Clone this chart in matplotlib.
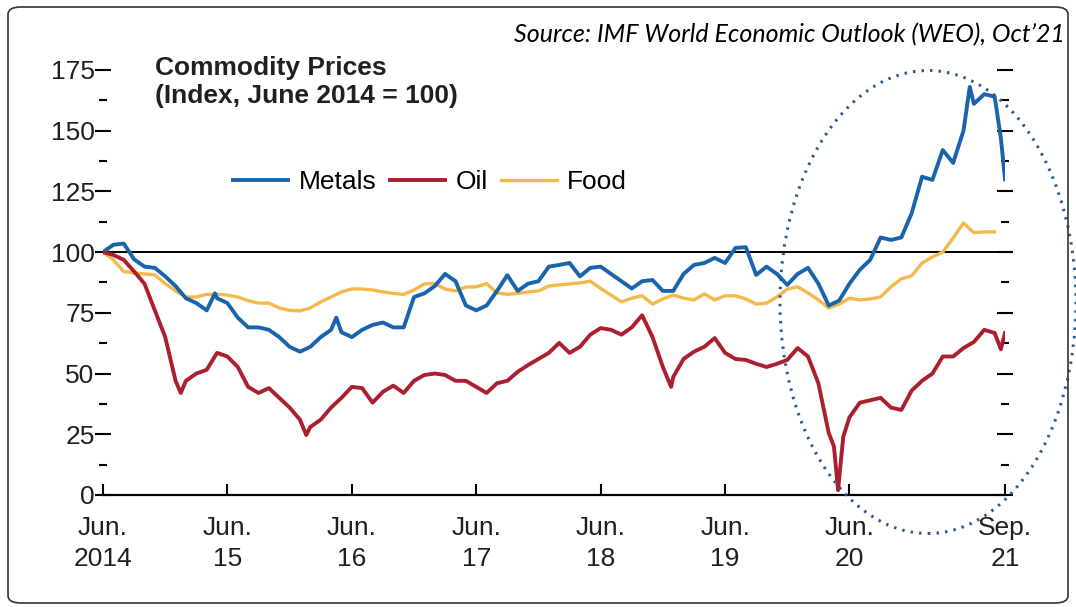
import matplotlib
matplotlib.use('Agg')
import matplotlib.pyplot as plt
from matplotlib.patches import Ellipse, FancyBboxPatch
from matplotlib.ticker import MultipleLocator

plt.rcParams['font.family'] = ['Liberation Sans', 'DejaVu Sans']

# months since June 2014
metals_t = [0, 1, 2, 3, 4, 5, 6, 7, 8, 9, 10, 10.8, 11, 12, 13, 14, 15, 16, 17, 18, 19, 20,
            21, 22, 22.5, 23, 24, 25, 26, 27, 28, 29, 30, 31, 32, 33, 34, 35, 36, 37, 38, 39,
            40, 41, 42, 43, 44, 45, 46, 47, 48, 49, 50, 51, 52, 53, 54, 55, 56, 57, 58, 59,
            60, 61, 62, 63, 64, 65, 66, 67, 68, 69, 70, 71, 72, 73, 74, 75, 76, 77, 78, 79,
            80, 81, 82, 83, 83.6, 84, 85, 86, 86.6, 87]
metals = [100, 103, 103.5, 97, 94, 93.5, 90, 86, 81, 79, 76, 83, 81, 79, 73, 69, 69, 68, 65, 61, 59, 61,
          65, 68, 73, 67, 65, 68, 70, 71, 69, 69, 81.5, 83, 86, 91, 88, 78, 76, 78, 84, 90.5,
          84, 87, 88, 94, 94.7, 95.5, 90, 93.5, 94, 91, 88, 85, 88, 88.5, 84, 84, 91, 94.7, 95.5, 97.6,
          95.5, 101.7, 102, 90.6, 94, 91, 86.5, 91, 93.5, 87, 78, 80, 87, 92.7, 96.8, 106, 105, 106, 116, 131,
          129.7, 142, 136.7, 150, 168, 161, 165, 164, 147, 130]

oil_t = [0, 1, 2, 3, 4, 5, 6, 7, 7.5, 8, 9, 10, 11, 12, 13, 14, 15, 16, 17, 18, 19, 19.6, 20,
         21, 22, 23, 24, 25, 26, 27, 28, 29, 30, 31, 32, 33, 34, 35, 36, 37, 38, 39, 40, 41,
         42, 43, 44, 45, 46, 47, 48, 49, 50, 51, 52, 53, 54, 54.8, 55, 56, 57, 58, 59, 60, 61,
         62, 63, 64, 65, 66, 67, 68, 69, 70, 70.5, 70.9, 71.4, 72, 73, 74, 75, 76, 77, 78, 79,
         80, 81, 82, 83, 84, 85, 86, 86.6, 87]
oil = [100, 98.8, 96.8, 92, 87, 76, 65, 47, 42, 47, 50, 51.5, 58.5, 57, 52.7, 44.5, 42, 44, 40, 36, 31, 24.7, 28,
       31, 36, 40, 44.5, 44, 38, 42.5, 45, 42, 47, 49.4, 50, 49.4, 47, 47, 44.5, 42, 46, 47, 50.7, 53.5,
       56, 58.5, 62.6, 58.5, 61, 66, 68.7, 68, 66, 69, 74, 65, 52.7, 44.5, 48.6, 56, 59, 61, 64.6, 58.5, 56,
       55.6, 54, 52.7, 54, 55.6, 60.5, 57, 46, 25.5, 20, 2, 24, 32, 38, 39, 40, 36, 35, 43, 47,
       50, 57, 57, 60.5, 63, 68, 66.7, 60, 66.7]

food_t = list(range(87))
food = [100, 96.8, 92, 91.4, 91, 90.6, 87, 84, 81.5, 81.5, 82.6, 82.6, 82.3, 81.5, 80, 79, 79, 77, 76, 75.8,
        77, 79.5, 81.5, 83.6, 84.8, 84.8, 84.4, 83.6, 83, 82.6, 84.4, 86.9, 87, 84.8, 84, 85.6, 85.7, 87, 83.2,
        82.6, 83, 83.6, 84, 86, 86.5, 86.9, 87.3, 88, 85, 82.3, 79.5, 81, 82, 78.6, 80.7, 82.3, 81, 80.3, 82.8,
        80.3, 82, 82, 80.7, 78.6, 79, 81.5, 84.8, 85.7, 83.2, 80.3, 77, 78.6, 81, 80.3, 80.7, 81.5, 85.7, 89,
        90.2, 95.5, 98, 100, 105.8, 112, 108, 108.3, 108.3]

tick_pos = [0, 12, 24, 36, 48, 60, 72, 87]
tick_labels = ['Jun.\n2014', 'Jun.\n15', 'Jun.\n16', 'Jun.\n17', 'Jun.\n18', 'Jun.\n19', 'Jun.\n20', 'Sep.\n21']

W, H = 1076, 607
fig = plt.figure(figsize=(W / 100, H / 100), dpi=100)
ax = fig.add_axes([103 / W, 1 - 495 / H, (1005 - 103) / W, (495 - 65) / H])

ax.axhline(100, color='black', lw=1.4, zorder=1)
ax.plot(food_t, food, color='#f3b94a', lw=2.4, label='Food', zorder=2)
ax.plot(metals_t, metals, color='#1a64ad', lw=2.8, label='Metals', zorder=3)
ax.plot(oil_t, oil, color='#ab1f2e', lw=2.8, label='Oil', zorder=3)

ax.set_xlim(0, 87)
ax.set_ylim(0, 177)
for s in ['top', 'left', 'right']:
    ax.spines[s].set_visible(False)
ax.spines['bottom'].set_linewidth(1.6)

ax.set_xticks(tick_pos)
ax.set_xticklabels(tick_labels, fontsize=19, linespacing=1.4, color='#231f20')
ax.tick_params(axis='x', direction='in', length=8, width=1.5, pad=15)

ax.yaxis.set_major_locator(MultipleLocator(25))
ax.yaxis.set_minor_locator(MultipleLocator(12.5))
ax.tick_params(axis='y', which='major', direction='inout', length=12, width=1.5,
               right=True, labelsize=19, labelcolor='#231f20', pad=0)
ax.tick_params(axis='y', which='minor', direction='inout', length=6, width=1.5, right=True)

h = ax.get_legend_handles_labels()[0]
handles = [h[1], h[2], h[0]]
ax.legend(handles, ['Metals', 'Oil', 'Food'], ncol=3, frameon=False, fontsize=19,
          loc='center left', bbox_to_anchor=(233 / W, 1 - 182 / H),
          bbox_transform=fig.transFigure, borderpad=0, borderaxespad=0,
          handlelength=2.1, handletextpad=0.4, columnspacing=0.5)

fig.text(155 / W, 1 - 56 / H, 'Commodity Prices\n(Index, June 2014 = 100)', fontsize=19,
         fontweight='bold', va='top', ha='left', linespacing=1.2, color='#231f20')
fig.text(1065 / W, 1 - 35 / H, 'Source: IMF World Economic Outlook (WEO), Oct\u201921',
         fontsize=18, style='italic', ha='right', va='center', family=['Lato', 'DejaVu Sans'])

ell = Ellipse((928 / W, 1 - 302 / H), 296 / W, 463 / H, transform=fig.transFigure,
              fill=False, edgecolor='#2e5a8e', lw=2.2, linestyle=(0, (0.8, 2.0)))
fig.patches.append(ell)

frame = FancyBboxPatch((8 / W, 4 / H), (1068 - 8) / W, (600 - 4) / H,
                       boxstyle='round,pad=0,rounding_size=0.012', transform=fig.transFigure,
                       fill=False, edgecolor='#333333', lw=1.2)
fig.patches.append(frame)

fig.savefig('out.png', dpi=100)
